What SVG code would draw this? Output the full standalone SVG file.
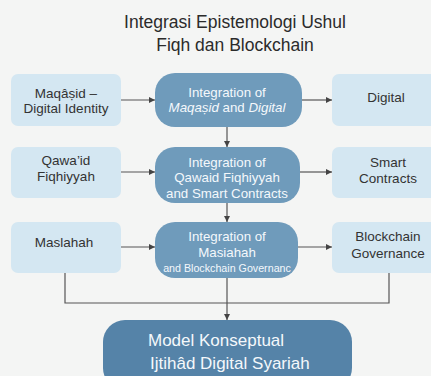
<svg xmlns="http://www.w3.org/2000/svg" width="431" height="376" viewBox="0 0 431 376">
  <defs>
    <style>
      text { font-family: "Liberation Sans", Arial, sans-serif; }
      .title { font-size: 17.5px; fill: #2b2b2b; text-anchor: middle; }
      .side rect { fill: #d4e7f2; }
      .side text { font-size: 13.5px; fill: #333333; text-anchor: middle; }
      .core rect { fill: #6f9bbb; }
      .core text { font-size: 13.3px; fill: #f4f8fb; text-anchor: middle; }
      .core text.small { font-size: 10.7px; }
      .result rect { fill: #5583a8; }
      .result text { font-size: 17px; fill: #f4f8fb; }
      .edge { fill: none; stroke: #555555; stroke-width: 1.2; }
      .it { font-style: italic; }
    </style>
    <marker id="arrow" markerUnits="userSpaceOnUse" markerWidth="7" markerHeight="7" refX="6" refY="3.5" orient="auto">
      <path d="M0,0.5 L6,3.5 L0,6.5 Z" fill="#444444"/>
    </marker>
  </defs>

  <rect width="431" height="376" fill="#f4f5f4"/>

  <text class="title" x="235" y="28">Integrasi Epistemologi Ushul</text>
  <text class="title" x="235" y="51">Fiqh dan Blockchain</text>

  <!-- connectors -->
  <g id="connectors">
    <line class="edge" x1="121" y1="100" x2="155" y2="100" marker-end="url(#arrow)"/>
    <line class="edge" x1="121" y1="172" x2="155" y2="172" marker-end="url(#arrow)"/>
    <line class="edge" x1="121" y1="247" x2="155" y2="247" marker-end="url(#arrow)"/>
    <line class="edge" x1="302" y1="100" x2="332" y2="100" marker-end="url(#arrow)"/>
    <line class="edge" x1="300" y1="172" x2="332" y2="172" marker-end="url(#arrow)"/>
    <line class="edge" x1="298" y1="247" x2="332" y2="247" marker-end="url(#arrow)"/>
    <line class="edge" x1="227" y1="127" x2="227" y2="147" marker-end="url(#arrow)"/>
    <line class="edge" x1="227" y1="203" x2="227" y2="222" marker-end="url(#arrow)"/>
    <line class="edge" x1="227" y1="278" x2="227" y2="320" marker-end="url(#arrow)"/>
    <polyline class="edge" points="65,273 65,303 389,303 389,273"/>
  </g>

  <!-- left column -->
  <g id="maqasid-identity" class="side">
    <rect x="11" y="74" width="110" height="52" rx="7"/>
    <text x="66" y="98">Maqâṣid –</text>
    <text x="66" y="113">Digital Identity</text>
  </g>
  <g id="qawaid" class="side">
    <rect x="11" y="147" width="110" height="51" rx="7"/>
    <text x="66" y="165">Qawa’id</text>
    <text x="66" y="181">Fiqhiyyah</text>
  </g>
  <g id="maslahah" class="side">
    <rect x="11" y="222" width="110" height="51" rx="7"/>
    <text x="64" y="247">Maslahah</text>
  </g>

  <!-- center column -->
  <g id="integration-maqasid" class="core">
    <rect x="155" y="73" width="147" height="54" rx="20"/>
    <text x="227" y="97">Integration of</text>
    <text x="227" y="112"><tspan class="it">Maqaṣid</tspan> and <tspan class="it">Digital</tspan></text>
  </g>
  <g id="integration-qawaid" class="core">
    <rect x="155" y="147" width="145" height="56" rx="20"/>
    <text x="227" y="167">Integration of</text>
    <text x="227" y="182">Qawaid Fiqhiyyah</text>
    <text x="227" y="198">and Smart Contracts</text>
  </g>
  <g id="integration-masiahah" class="core">
    <rect x="155" y="222" width="143" height="56" rx="20"/>
    <text x="227" y="241">Integration of</text>
    <text x="227" y="257">Masiahah</text>
    <text class="small" x="227" y="272">and Blockchain Governanc</text>
  </g>

  <!-- right column -->
  <g id="digital" class="side">
    <rect x="332" y="74" width="110" height="52" rx="7"/>
    <text x="386" y="102">Digital</text>
  </g>
  <g id="smart-contracts" class="side">
    <rect x="332" y="147" width="110" height="51" rx="7"/>
    <text x="388" y="167">Smart</text>
    <text x="388" y="183">Contracts</text>
  </g>
  <g id="blockchain-governance" class="side">
    <rect x="332" y="222" width="110" height="51" rx="7"/>
    <text x="388" y="241">Blockchain</text>
    <text x="388" y="258">Governance</text>
  </g>

  <!-- outcome -->
  <g id="model-konseptual" class="result">
    <rect x="103" y="320" width="249" height="70" rx="22"/>
    <text x="148" y="346">Model Konseptual</text>
    <text x="150" y="369">Ijtihâd Digital Syariah</text>
  </g>
</svg>
